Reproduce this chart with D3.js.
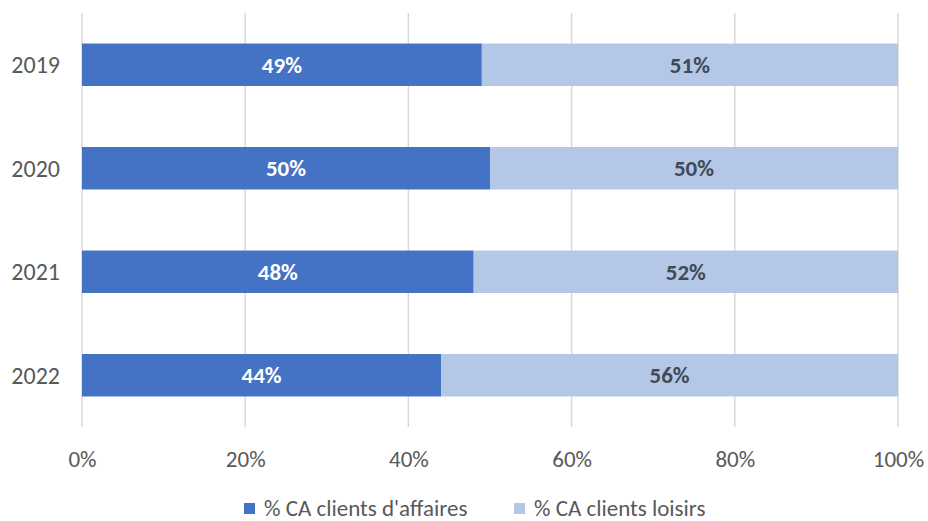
<!DOCTYPE html>
<html>
<head>
<meta charset="utf-8">
<script src="https://cdn.jsdelivr.net/npm/d3@7"></script>
<style>
  body { margin: 0; background: #fff; }
  svg { display: block; font-family: Carlito, Lato, "Open Sans", sans-serif; }
</style>
</head>
<body>
<svg id="chart" width="928" height="521"></svg>
<script>
const years = ['2019', '2020', '2021', '2022'];
const affaires = [49, 50, 48, 44];
const loisirs = [51, 50, 52, 56];
const seriesNames = ["% CA clients d'affaires", '% CA clients loisirs'];
const seriesColors = ['#4472C4', '#B4C7E7'];
const labelColors = ['#ffffff', '#404a57'];
const xTicks = [0, 20, 40, 60, 80, 100];

const svg = d3.select('#chart');
const margin = {top: 13, right: 30, bottom: 94, left: 82};
const width = 928 - margin.left - margin.right;
const height = 521 - margin.top - margin.bottom;

const g = svg.append('g')
  .attr('transform', 'translate(' + margin.left + ',' + margin.top + ')');

const x = d3.scaleLinear().domain([0, 100]).range([0, width]);
const y = d3.scaleBand().domain(years).range([0, height]).paddingInner(0.59).paddingOuter(0.295);

// gridlines
g.selectAll('line.grid')
  .data(xTicks)
  .enter()
  .append('line')
  .attr('class', 'grid')
  .attr('x1', d => x(d))
  .attr('x2', d => x(d))
  .attr('y1', 0)
  .attr('y2', height)
  .attr('stroke', '#d9d9d9')
  .attr('stroke-width', 1.5);

// stack the two series
const rows = years.map((year, i) => ({year: year, values: [affaires[i], loisirs[i]]}));

rows.forEach(row => {
  let start = 0;
  row.values.forEach((v, s) => {
    g.append('rect')
      .attr('x', x(start))
      .attr('y', y(row.year))
      .attr('width', x(start + v) - x(start))
      .attr('height', y.bandwidth())
      .attr('fill', seriesColors[s]);

    g.append('text')
      .attr('x', x(start + v / 2))
      .attr('y', y(row.year) + y.bandwidth() / 2)
      .attr('dy', '0.35em')
      .attr('text-anchor', 'middle')
      .attr('font-size', 23)
      .attr('font-weight', 'bold')
      .attr('fill', labelColors[s])
      .text(v + '%');
    start += v;
  });
});

// y labels
g.selectAll('text.ylab')
  .data(years)
  .enter()
  .append('text')
  .attr('class', 'ylab')
  .attr('x', -22)
  .attr('y', d => y(d) + y.bandwidth() / 2)
  .attr('dy', '0.35em')
  .attr('text-anchor', 'end')
  .attr('font-size', 24)
  .attr('fill', '#595959')
  .text(d => d);

// x axis labels
const xAxis = d3.axisBottom(x)
  .tickValues(xTicks)
  .tickFormat(d => d + '%')
  .tickSize(0)
  .tickPadding(24);
const ax = g.append('g')
  .attr('transform', 'translate(0,' + height + ')')
  .call(xAxis);
ax.select('.domain').remove();
ax.selectAll('text')
  .attr('font-size', 23)
  .attr('font-family', 'Carlito, Lato, "Open Sans", sans-serif')
  .attr('fill', '#595959');

// legend (sits low, as in the original, but kept inside the frame)
const legendX = [244, 514];
const legend = svg.append('g');
seriesNames.forEach((name, i) => {
  legend.append('rect')
    .attr('x', legendX[i])
    .attr('y', 503)
    .attr('width', 11)
    .attr('height', 11)
    .attr('fill', seriesColors[i]);
  legend.append('text')
    .attr('x', legendX[i] + 20)
    .attr('y', 508)
    .attr('dy', '0.35em')
    .attr('font-size', 23)
    .attr('fill', '#595959')
    .text(name);
});
</script>
</body>
</html>
